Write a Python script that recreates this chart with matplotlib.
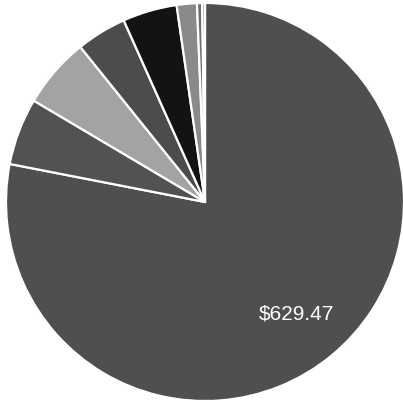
import matplotlib
matplotlib.use("Agg")
import matplotlib.pyplot as plt

categories = ["A", "B", "C", "D", "E", "F", "G", "H"]
values = [629.47, 43.9, 46.1, 32.9, 35.6, 13.2, 3.4, 1.8]
colors = ["#4f4f4f", "#525252", "#a3a3a3", "#4c4c4c", "#131313", "#8a8a8a", "#6e6e6e", "#777777"]

fig = plt.figure(figsize=(4.03, 4.06), dpi=100)
ax = fig.add_axes([6 / 403, 4 / 406, 398 / 403, 398 / 406])

total = sum(values)

def fmt(pct):
    v = pct * total / 100
    return f"\\${v:.2f}" if v > 600 else ""

wedges, texts, autotexts = ax.pie(
    values, colors=colors, startangle=90, counterclock=False,
    autopct=fmt, pctdistance=0.72,
    wedgeprops=dict(edgecolor="white", linewidth=1.6),
    textprops=dict(color="white", fontsize=15, family="Liberation Sans"),
)
ax.set_xlim(-1, 1)
ax.set_ylim(-1, 1)
ax.axis("off")
fig.savefig("out.png", dpi=100)
